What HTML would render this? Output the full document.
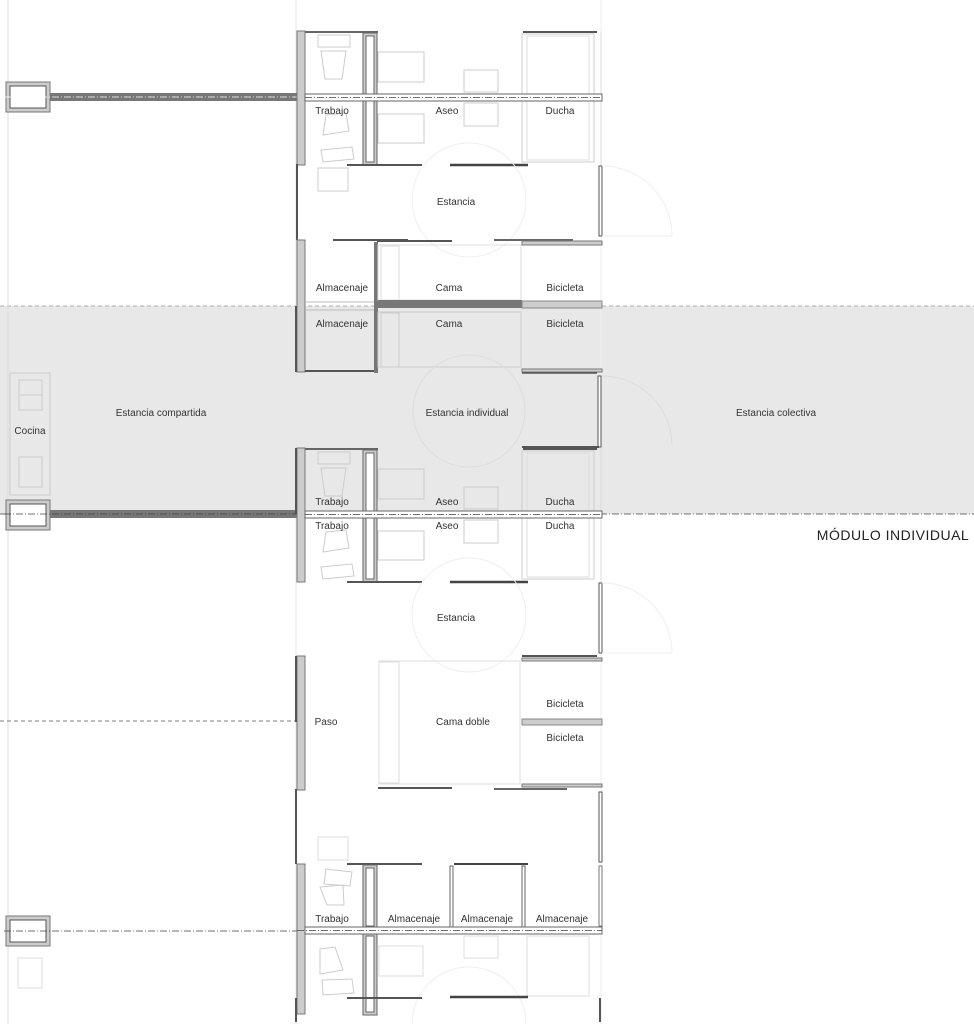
<!DOCTYPE html>
<html><head><meta charset="utf-8"><style>
html,body{margin:0;padding:0;background:#fff;width:974px;height:1024px;overflow:hidden;}
svg{display:block;position:absolute;left:0;top:0}
text{font-family:"Liberation Sans",sans-serif;font-size:10px;fill:#333;text-anchor:middle}
</style></head><body>
<svg width="974" height="1024" viewBox="0 0 974 1024" xmlns="http://www.w3.org/2000/svg">
<defs>
<g id="bath">
  <rect x="297" y="0" width="8" height="134" fill="#ccc" stroke="#777" stroke-width="1"/>
  <line x1="305" y1="1" x2="378" y2="1" stroke="#666" stroke-width="2"/>
  <rect x="363" y="2" width="14" height="132" fill="#ccc" stroke="#666"/>
  <rect x="366" y="5" width="8" height="126" fill="#fff" stroke="#666"/>
  <rect x="318" y="4" width="32" height="12" fill="none" stroke="#ccc"/>
  <path d="M321 20 L346 20 L342 48 L325 48 Z" fill="none" stroke="#ccc"/>
  <path d="M326 84 L346 82 L349 100 L323 104 Z" fill="none" stroke="#ccc"/>
  <path d="M321 119 L352 116 L354 128 L323 131 Z" fill="none" stroke="#ccc"/>
  <rect x="378" y="21" width="46" height="30" fill="none" stroke="#ccc"/>
  <rect x="378" y="83" width="46" height="29" fill="none" stroke="#ccc"/>
  <rect x="464" y="39" width="34" height="22" fill="none" stroke="#ccc"/>
  <rect x="464" y="72" width="34" height="23" fill="none" stroke="#ccc"/>
  <rect x="522" y="3" width="72" height="128" fill="none" stroke="#ccc"/>
  <rect x="527" y="5" width="62" height="124" fill="none" stroke="#ddd"/>
  <line x1="523" y1="1" x2="597" y2="1" stroke="#555" stroke-width="2"/>
  <line x1="601" y1="0" x2="601" y2="134" stroke="#ddd"/>
  <rect x="305" y="63" width="297" height="7" fill="#fff" stroke="#666"/>
  <line x1="305" y1="66.5" x2="602" y2="66.5" stroke="#444" stroke-dasharray="7 2 1 2" stroke-width="0.8"/>
  <line x1="347" y1="134" x2="422" y2="134" stroke="#555" stroke-width="2"/>
  <line x1="450" y1="134" x2="528" y2="134" stroke="#444" stroke-width="2.5"/>
</g>
<g id="pillar">
  <rect x="6" y="0" width="44" height="30" fill="#ccc" stroke="#777"/>
  <rect x="10" y="4" width="36" height="22" fill="#fff" stroke="#555"/>
</g>
</defs>

<rect x="0" y="306" width="974" height="208" fill="#e8e8e8"/>
<line x1="0" y1="306" x2="974" y2="306" stroke="#999" stroke-dasharray="4 3" stroke-width="0.8"/>
<line x1="0" y1="514" x2="974" y2="514" stroke="#444" stroke-dasharray="7 2 1 2" stroke-width="0.8"/>

<line x1="8" y1="0" x2="8" y2="1024" stroke="#ddd"/>
<line x1="296" y1="0" x2="296" y2="1024" stroke="#e4e4e4"/>
<line x1="601" y1="0" x2="601" y2="1024" stroke="#eee"/>

<use href="#pillar" x="0" y="82"/>
<rect x="50" y="93" width="247" height="8" fill="#777"/>
<line x1="4" y1="97" x2="297" y2="97" stroke="#fff" stroke-dasharray="7 2 1 2" stroke-width="0.8"/>
<use href="#pillar" x="0" y="500"/>
<rect x="50" y="510" width="247" height="8" fill="#777"/>
<line x1="4" y1="514" x2="297" y2="514" stroke="#444" stroke-dasharray="7 2 1 2" stroke-width="0.8"/>
<use href="#pillar" x="0" y="916"/>
<line x1="4" y1="931" x2="297" y2="931" stroke="#444" stroke-dasharray="7 2 1 2" stroke-width="0.8"/>
<line x1="0" y1="721" x2="296" y2="721" stroke="#555" stroke-dasharray="4 3" stroke-width="0.8"/>
<rect x="18" y="958" width="24" height="30" fill="none" stroke="#ddd"/>

<rect x="10" y="373" width="40" height="122" fill="none" stroke="#ccc"/>
<rect x="19" y="380" width="23" height="30" fill="none" stroke="#ccc"/>
<line x1="19" y1="395" x2="42" y2="395" stroke="#ccc"/>
<rect x="19" y="457" width="23" height="30" fill="none" stroke="#ccc"/>

<use href="#bath" x="0" y="31"/>
<use href="#bath" x="0" y="448"/>

<line x1="297" y1="164" x2="297" y2="240" stroke="#555" stroke-width="2"/>
<rect x="318" y="168" width="30" height="23" fill="none" stroke="#ccc"/>
<circle cx="469" cy="200" r="57" fill="none" stroke="#eee"/>
<rect x="599" y="166" width="3" height="70" fill="#fff" stroke="#555"/>
<path d="M602 166 A70 70 0 0 1 672 236" fill="none" stroke="#eee"/>
<line x1="602" y1="236" x2="672" y2="236" stroke="#eee"/>

<line x1="333" y1="240" x2="408" y2="240" stroke="#555" stroke-width="2"/>
<line x1="377" y1="241" x2="452" y2="241" stroke="#555" stroke-width="2"/>
<line x1="494" y1="240" x2="573" y2="240" stroke="#666" stroke-width="2"/>
<rect x="522" y="241" width="80" height="4" fill="#ccc" stroke="#777"/>
<rect x="297" y="240" width="8" height="132" fill="#ccc" stroke="#777"/>
<line x1="296" y1="306" x2="296" y2="372" stroke="#555" stroke-width="2"/>
<rect x="374" y="242" width="4" height="131" fill="#777"/>
<rect x="378" y="245" width="143" height="55" fill="none" stroke="#ddd"/>
<rect x="381" y="246" width="18" height="54" fill="none" stroke="#ddd"/>
<rect x="378" y="312" width="143" height="55" fill="none" stroke="#ccc"/>
<rect x="381" y="313" width="18" height="54" fill="none" stroke="#ccc"/>
<line x1="305" y1="302" x2="374" y2="302" stroke="#bbb"/>
<line x1="305" y1="310" x2="374" y2="310" stroke="#bbb"/>
<rect x="378" y="300" width="144" height="8" fill="#777"/>
<rect x="522" y="301" width="80" height="7" fill="#ccc" stroke="#888"/>
<line x1="305" y1="371" x2="374" y2="371" stroke="#555" stroke-width="2"/>
<rect x="522" y="369" width="80" height="3" fill="#ccc" stroke="#777"/>
<line x1="522" y1="373" x2="597" y2="373" stroke="#555" stroke-width="1.5"/>

<circle cx="469" cy="411" r="56" fill="none" stroke="#ddd"/>
<rect x="598" y="376" width="3" height="71" fill="#fff" stroke="#555"/>
<path d="M602 376 A70 70 0 0 1 672 446" fill="none" stroke="#ddd"/>
<line x1="522" y1="447" x2="599" y2="447" stroke="#555" stroke-width="2"/>
<line x1="296" y1="448" x2="296" y2="514" stroke="#555" stroke-width="2"/>

<circle cx="469" cy="615" r="57" fill="none" stroke="#eee"/>
<rect x="599" y="583" width="3" height="70" fill="#fff" stroke="#555"/>
<path d="M602 583 A70 70 0 0 1 672 653" fill="none" stroke="#eee"/>
<line x1="602" y1="653" x2="672" y2="653" stroke="#eee"/>

<rect x="297" y="656" width="8" height="134" fill="#ccc" stroke="#777"/>
<line x1="296" y1="656" x2="296" y2="722" stroke="#555" stroke-width="2"/>
<rect x="379" y="661" width="141" height="123" fill="none" stroke="#ddd"/>
<rect x="379" y="662" width="20" height="121" fill="none" stroke="#ddd"/>
<line x1="522" y1="656" x2="597" y2="656" stroke="#555" stroke-width="2"/>
<rect x="522" y="658" width="80" height="3" fill="#ccc" stroke="#777"/>
<rect x="522" y="719" width="80" height="6" fill="#ccc" stroke="#888"/>
<rect x="522" y="784" width="80" height="3" fill="#ccc" stroke="#777"/>
<line x1="378" y1="788" x2="452" y2="788" stroke="#555" stroke-width="2"/>
<line x1="494" y1="789" x2="567" y2="789" stroke="#666" stroke-width="2"/>

<line x1="296" y1="789" x2="296" y2="864" stroke="#555" stroke-width="2"/>
<rect x="599" y="792" width="3" height="70" fill="#fff" stroke="#555"/>
<rect x="318" y="837" width="30" height="23" fill="none" stroke="#ddd"/>

<rect x="297" y="864" width="8" height="150" fill="#ccc" stroke="#777"/>
<line x1="347" y1="864" x2="422" y2="864" stroke="#555" stroke-width="2"/>
<rect x="363" y="865" width="14" height="150" fill="#ccc" stroke="#666"/>
<rect x="366" y="868" width="8" height="58" fill="#fff" stroke="#666"/>
<rect x="366" y="936" width="8" height="76" fill="#fff" stroke="#666"/>
<line x1="454" y1="864" x2="528" y2="864" stroke="#444" stroke-width="2"/>
<rect x="450" y="866" width="3" height="62" fill="#fff" stroke="#666"/>
<rect x="522" y="866" width="3" height="62" fill="#fff" stroke="#666"/>
<rect x="599" y="866" width="3" height="60" fill="#fff" stroke="#777"/>
<path d="M326 869 L352 872 L350 886 L324 884 Z" fill="none" stroke="#ccc"/>
<path d="M320 887 L343 885 L344 905 L327 905 Z" fill="none" stroke="#ccc"/>
<rect x="305" y="927" width="297" height="7" fill="#fff" stroke="#666"/>
<line x1="297" y1="930.5" x2="602" y2="930.5" stroke="#444" stroke-dasharray="7 2 1 2" stroke-width="0.8"/>
<path d="M320 949 L335 947 L343 970 L320 974 Z" fill="none" stroke="#ccc"/>
<path d="M322 980 L352 979 L354 993 L323 995 Z" fill="none" stroke="#ccc"/>
<rect x="379" y="946" width="44" height="30" fill="none" stroke="#ddd"/>
<rect x="464" y="936" width="34" height="22" fill="none" stroke="#ddd"/>
<rect x="527" y="936" width="62" height="60" fill="none" stroke="#ddd"/>
<path d="M412 1024 A57 57 0 0 1 526 1024" fill="none" stroke="#eee"/>
<line x1="347" y1="998" x2="422" y2="998" stroke="#555" stroke-width="2"/>
<line x1="450" y1="997" x2="528" y2="997" stroke="#444" stroke-width="2.5"/>
<line x1="296" y1="998" x2="296" y2="1022" stroke="#555" stroke-width="2"/>
<line x1="600" y1="998" x2="600" y2="1022" stroke="#555" stroke-width="2"/>

<text x="332" y="114">Trabajo</text>
<text x="447" y="114">Aseo</text>
<text x="560" y="114">Ducha</text>
<text x="456" y="205">Estancia</text>
<text x="342" y="291">Almacenaje</text>
<text x="449" y="291">Cama</text>
<text x="565" y="291">Bicicleta</text>
<text x="342" y="327">Almacenaje</text>
<text x="449" y="327">Cama</text>
<text x="565" y="327">Bicicleta</text>
<text x="161" y="416">Estancia compartida</text>
<text x="30" y="434">Cocina</text>
<text x="467" y="416">Estancia individual</text>
<text x="776" y="416">Estancia colectiva</text>
<text x="332" y="505">Trabajo</text>
<text x="447" y="505">Aseo</text>
<text x="560" y="505">Ducha</text>
<text x="332" y="529">Trabajo</text>
<text x="447" y="529">Aseo</text>
<text x="560" y="529">Ducha</text>
<text x="893" y="540" style="font-size:14px;fill:#222;letter-spacing:0.5px">MÓDULO INDIVIDUAL</text>
<text x="456" y="621">Estancia</text>
<text x="326" y="725">Paso</text>
<text x="463" y="725">Cama doble</text>
<text x="565" y="707">Bicicleta</text>
<text x="565" y="741">Bicicleta</text>
<text x="332" y="922">Trabajo</text>
<text x="414" y="922">Almacenaje</text>
<text x="487" y="922">Almacenaje</text>
<text x="562" y="922">Almacenaje</text>
</svg>
</body></html>
